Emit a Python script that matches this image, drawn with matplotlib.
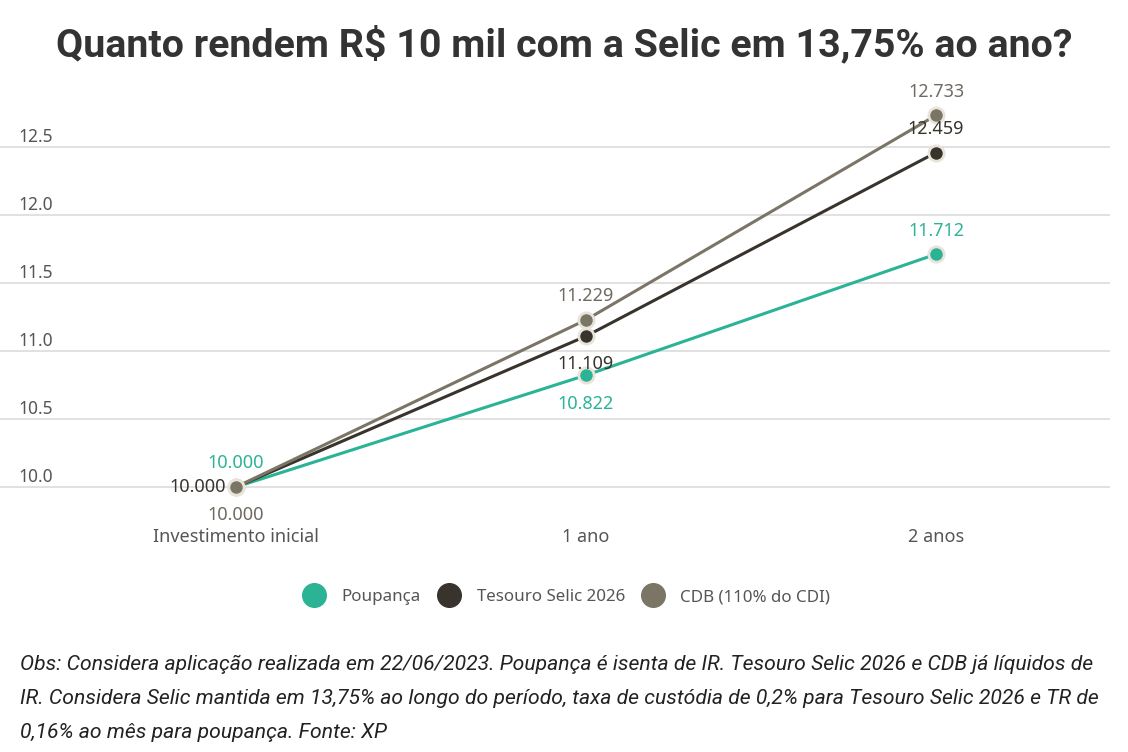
import matplotlib
matplotlib.use("Agg")
import matplotlib.pyplot as plt
from matplotlib.lines import Line2D

# dados
categorias = ["Investimento inicial", "1 ano", "2 anos"]
poupanca = [10.000, 10.822, 11.712]
tesouro = [10.000, 11.109, 12.459]
cdb = [10.000, 11.229, 12.733]
series = ["Poupança", "Tesouro Selic 2026", "CDB (110% do CDI)"]
yticks = [10.0, 10.5, 11.0, 11.5, 12.0, 12.5]

cores = ["#2bb396", "#38332c", "#7a7565"]
cores_txt = ["#2bb396", "#38332c", "#6f6a62"]
borda = "#e9e4da"

plt.rcParams["font.family"] = ["Noto Sans", "DejaVu Sans"]

fig = plt.figure(figsize=(11.28, 7.52), dpi=100)
ax = fig.add_axes([0, 1 - 500 / 752, 1110 / 1128, (500 - 95) / 752])

x = range(len(categorias))
for vals, c in zip([poupanca, tesouro, cdb], cores):
    ax.plot(x, vals, color=c, lw=2.2, marker="o", ms=11,
            mfc=c, mec=borda, mew=2, zorder=3)

# rotulos de valores (offset em pontos)
def fmt(v):
    return f"{v:.3f}"

offs = {
    0: [(0, 17, "center"), (-7, 0, "right"), (0, -20, "center")],
    1: [(0, -21, "center"), (0, -20, "center"), (0, 17, "center")],
    2: [(0, 17, "center"), (0, 17, "center"), (0, 17, "center")],
}
for i in x:
    for k, vals in enumerate([poupanca, tesouro, cdb]):
        dx, dy, ha = offs[i][k]
        ax.annotate(fmt(vals[i]), (i, vals[i]), xytext=(dx, dy),
                    textcoords="offset points", ha=ha, va="center",
                    fontsize=13, color=cores_txt[k], zorder=4)

ax.set_xlim(-236 / 350, (1110 - 236) / 350)
ax.set_ylim(10 - 13 / 136, 10 + 392 / 136)
for s in ax.spines.values():
    s.set_visible(False)
ax.set_yticks(yticks)
ax.set_yticklabels([])
ax.tick_params(length=0)
ax.grid(axis="y", color="#dcdcdc", lw=1.2)
ax.set_axisbelow(True)
for t in yticks:
    ax.annotate(f"{t:.1f}", (0, t), xycoords=("axes fraction", "data"),
                xytext=(13, 7), textcoords="offset points",
                ha="left", va="center", fontsize=12.5, color="#555555")
ax.set_xticks(list(x))
ax.set_xticklabels(categorias, fontsize=13, color="#555555")
ax.tick_params(axis="x", pad=20)

fig.text(0.5, 1 - 45 / 752, "Quanto rendem R$ 10 mil com a Selic em 13,75% ao ano?",
         ha="center", va="center", fontsize=28.4, fontweight="bold",
         color="#333333", family=["Roboto", "DejaVu Sans"])

handles = [Line2D([], [], ls="none", marker="o", ms=17, mfc=c, mec=c)
           for c in cores]
fig.legend(handles, series, loc="center", bbox_to_anchor=(0.502, 1 - 597 / 752),
           ncol=3, frameon=False, fontsize=12.2, handlelength=1.4,
           handletextpad=0.94, columnspacing=0.94, labelcolor="#555555")

nota = ("Obs: Considera aplicação realizada em 22/06/2023. Poupança é isenta de IR. "
        "Tesouro Selic 2026 e CDB já líquidos de\n"
        "IR. Considera Selic mantida em 13,75% ao longo do período, taxa de custódia "
        "de 0,2% para Tesouro Selic 2026 e TR de\n"
        "0,16% ao mês para poupança. Fonte: XP")
fig.text(20 / 1128, 1 - 655 / 752, nota, ha="left", va="top", fontsize=15.2,
         style="italic", color="#222222", linespacing=2.0,
         family=["Roboto", "DejaVu Sans"])

fig.savefig("out.png")
